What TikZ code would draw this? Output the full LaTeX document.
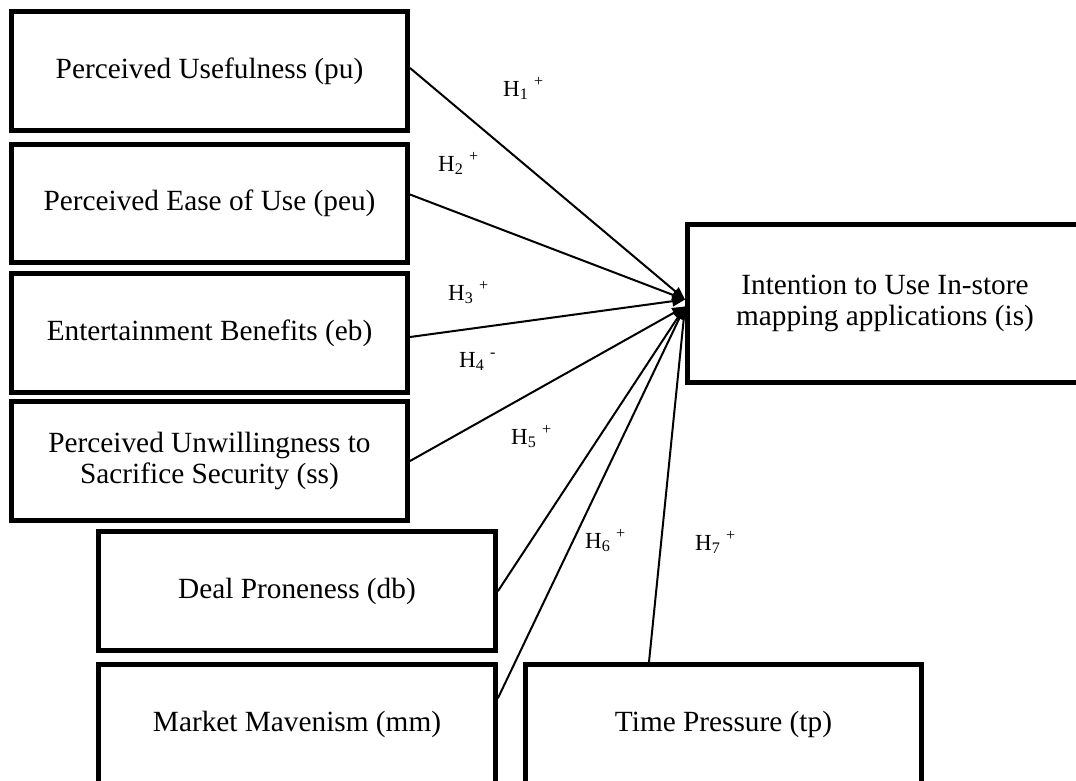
\documentclass[tikz,border=0pt]{standalone}
\usepackage{fontspec}
\setmainfont{Liberation Serif}
\usetikzlibrary{arrows}

\begin{document}
\begin{tikzpicture}[line cap=round,line join=round,>=triangle 45,x=1pt,y=-1pt,
    box/.style={draw,line width=5pt,line cap=rect,line join=miter,minimum width=396pt,minimum height=119pt,inner sep=0pt,align=center,font=\fontsize{29.3}{31}\selectfont},
    hyp/.style={anchor=base west,inner sep=0pt,font=\fontsize{23}{26}\selectfont},
    link/.style={->,line width=2pt}]
    \useasboundingbox (0,0) rectangle (1076,780);
    \node[box] (pu) at (209.5,71) {Perceived Usefulness (pu)};
    \node[box,minimum height=118pt] (peu) at (209.5,203.5) {Perceived Ease of Use (peu)};
    \node[box] (eb) at (209.5,333) {Entertainment Benefits (eb)};
    \node[box] (ss) at (209.5,461) {Perceived Unwillingness to\\Sacrifice Security (ss)};
    \node[box,minimum width=397pt] (db) at (297,591) {Deal Proneness (db)};
    \node[box,minimum width=397pt] (mm) at (297,724) {Market Mavenism (mm)};
    \node[box] (tp) at (723.5,724) {Time Pressure (tp)};
    \node[box,minimum width=395pt,minimum height=158pt] (is) at (885,303.5) {Intention to Use In-store\\mapping applications (is)};
    \draw[link] ([yshift=3pt]pu.east) -- ([yshift=4pt]is.west);
    \draw[link] ([yshift=9pt]peu.east) -- ([yshift=4pt]is.west);
    \draw[link] ([yshift=-4pt]eb.east) -- ([yshift=4pt]is.west);
    \draw[link] (ss.east) -- ([yshift=-3pt]is.west);
    \draw[link] (db.east) -- ([yshift=-3pt]is.west);
    \draw[link] ([yshift=26pt]mm.east) -- ([yshift=-3pt]is.west);
    \draw[link] ([xshift=-74.5pt]tp.north) -- ([yshift=-3pt]is.west);
    \foreach \n/\x/\y/\s in {1/503/96/+,2/438/171/+,3/448/300/+,4/459/367/-,5/511/444/+,6/585/548/+,7/695/550/+}
    \node[hyp] (h\n) at (\x,\y) {H\textsubscript{\n} \textsuperscript{\s}};
\end{tikzpicture}
\end{document}
